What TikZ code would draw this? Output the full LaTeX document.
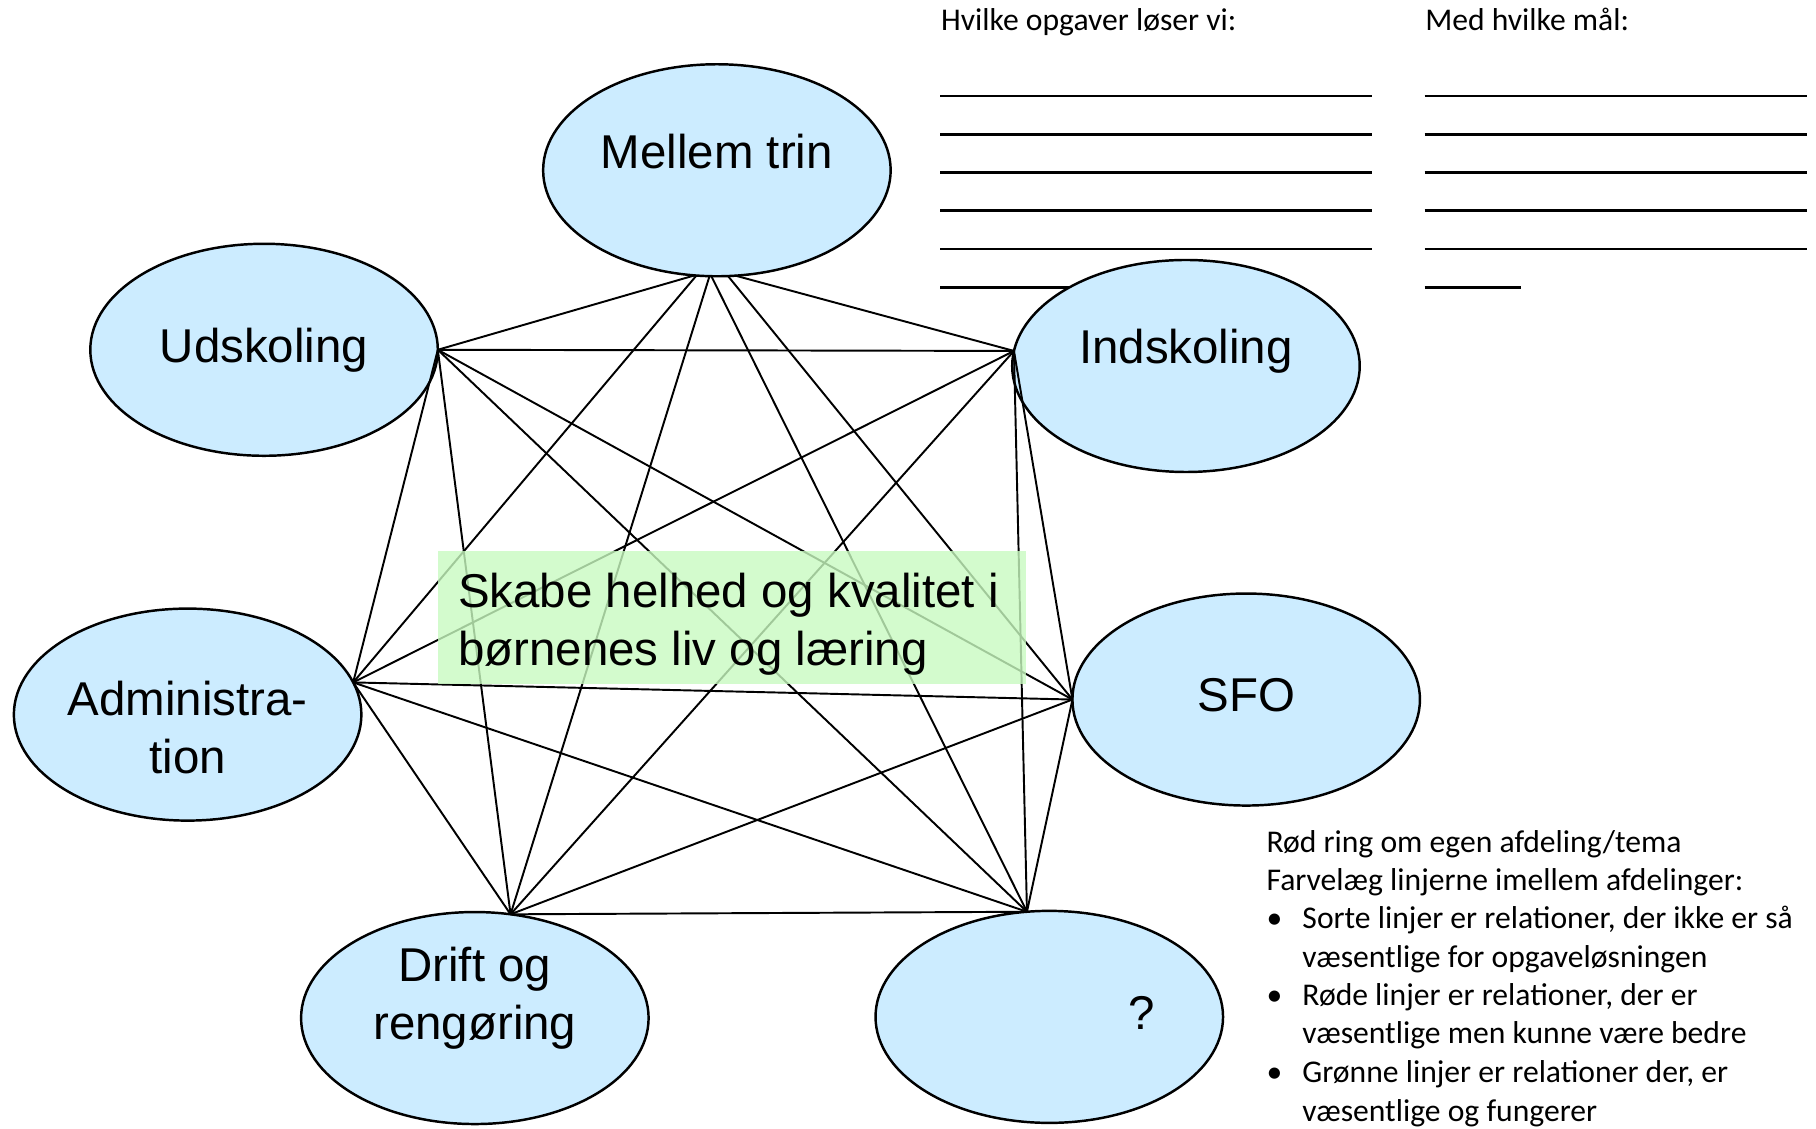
\documentclass[tikz,border=0pt]{standalone}
\usepackage{fontspec}
\setmainfont{Liberation Sans}
\newfontfamily\notefont{Carlito}
\usetikzlibrary{shapes.geometric}
\definecolor{bubblefill}{RGB}{204,236,255}
\definecolor{goalgreen}{RGB}{200,250,192}
\tikzset{
 bubble/.style={ellipse, draw=black, line width=0.7pt, fill=bubblefill, minimum width=3.475cm, minimum height=2.12cm, inner sep=0pt, outer sep=0pt},
 bublabel/.style={font=\fontsize{13.5}{16.4}\selectfont, align=center, inner sep=0pt},
 link/.style={line width=0.55pt, draw=black},
 note/.style={font=\notefont\fontsize{9}{10.9}\selectfont, inner sep=0pt, anchor=base west},
 blank/.style={line width=0.75pt, draw=black},
 goalbox/.style={rectangle, fill=goalgreen, fill opacity=0.8, minimum width=5.884cm, minimum height=1.332cm, inner sep=0pt},
 goaltext/.style={align=left, inner sep=0pt, anchor=west, font=\fontsize{13.5}{16.6}\selectfont},
}
\begin{document}
\begin{tikzpicture}[x=0.011582cm, y=-0.011582cm]
\useasboundingbox (0,0) rectangle (1568,974);

% writing lines
\foreach \yy in {83,116,149,182,215}{
  \draw[blank] (812,\yy) -- (1185,\yy);
  \draw[blank] (1230,\yy) -- (1560,\yy);
}
\draw[blank] (812,248) -- (950,248);
\draw[blank] (1230,248) -- (1313,248);

\node[note] (h1) at (812,26) {Hvilke opgaver løser vi:};
\node[note] (h2) at (1230,26) {Med hvilke mål:};

% bubbles
\node[bubble] (M) at (619,147) {};
\node[bubble] (U) at (228,302) {};
\node[bubble] (I) at (1024,316) {};
\node[bubble] (A) at (162,617) {};
\node[bubble] (S) at (1076,604) {};
\node[bubble] (D) at (410,879) {};
\node[bubble] (Q) at (906,878) {};

% links
\draw[link] (M.258) -- (U.east);
\draw[link] (M.280) -- (I.175);
\draw[link] (M.259) -- (A.11);
\draw[link] (M.276) -- (S.west);
\draw[link] (M.266) -- (D.71);
\draw[link] (M.267) -- (Q.102);
\draw[link] (U.east) -- (I.175);
\draw[link] (U.east) -- (A.11);
\draw[link] (U.east) -- (S.west);
\draw[link] (U.east) -- (D.71);
\draw[link] (U.east) -- (Q.102);
\draw[link] (I.175) -- (A.11);
\draw[link] (I.175) -- (S.west);
\draw[link] (I.175) -- (D.71);
\draw[link] (I.175) -- (Q.102);
\draw[link] (A.11) -- (S.west);
\draw[link] (A.11) -- (D.71);
\draw[link] (A.11) -- (Q.102);
\draw[link] (S.west) -- (D.71);
\draw[link] (S.west) -- (Q.102);
\draw[link] (D.71) -- (Q.102);

% bubble labels
\node[bublabel] (lM) at (619,131) {Mellem trin};
\node[bublabel] (lU) at (228,302) {Udskoling};
\node[bublabel] (lI) at (1024,303) {Indskoling};
\node[bublabel] (lA) at (162,628) {Administra-\\tion};
\node[bublabel] (lS) at (1076,600) {SFO};
\node[bublabel] (lD) at (410,862) {Drift og\\rengøring};
\node[bublabel] (lQ) at (986,875) {?};

% goal box
\node[goalbox] (goal) at (632,533.5) {};
\node[goaltext] (goaltxt) at (395,539) {Skabe helhed og kvalitet i\\børnenes liv og læring};

% notes
\node[note] (n1) at (1093,736) {Rød ring om egen afdeling/tema};
\node[note] (n2) at (1093,769) {Farvelæg linjerne imellem afdelinger:};
\node[note] (b1) at (1093,802) {•};
\node[note] (n3) at (1124,802) {Sorte linjer er relationer, der ikke er så};
\node[note] (n4) at (1124,835) {væsentlige for opgaveløsningen};
\node[note] (b2) at (1093,868) {•};
\node[note] (n5) at (1124,868) {Røde linjer er relationer, der er};
\node[note] (n6) at (1124,901) {væsentlige men kunne være bedre};
\node[note] (b3) at (1093,935) {•};
\node[note] (n7) at (1124,935) {Grønne linjer er relationer der, er};
\node[note] (n8) at (1124,968) {væsentlige og fungerer};
\end{tikzpicture}
\end{document}
